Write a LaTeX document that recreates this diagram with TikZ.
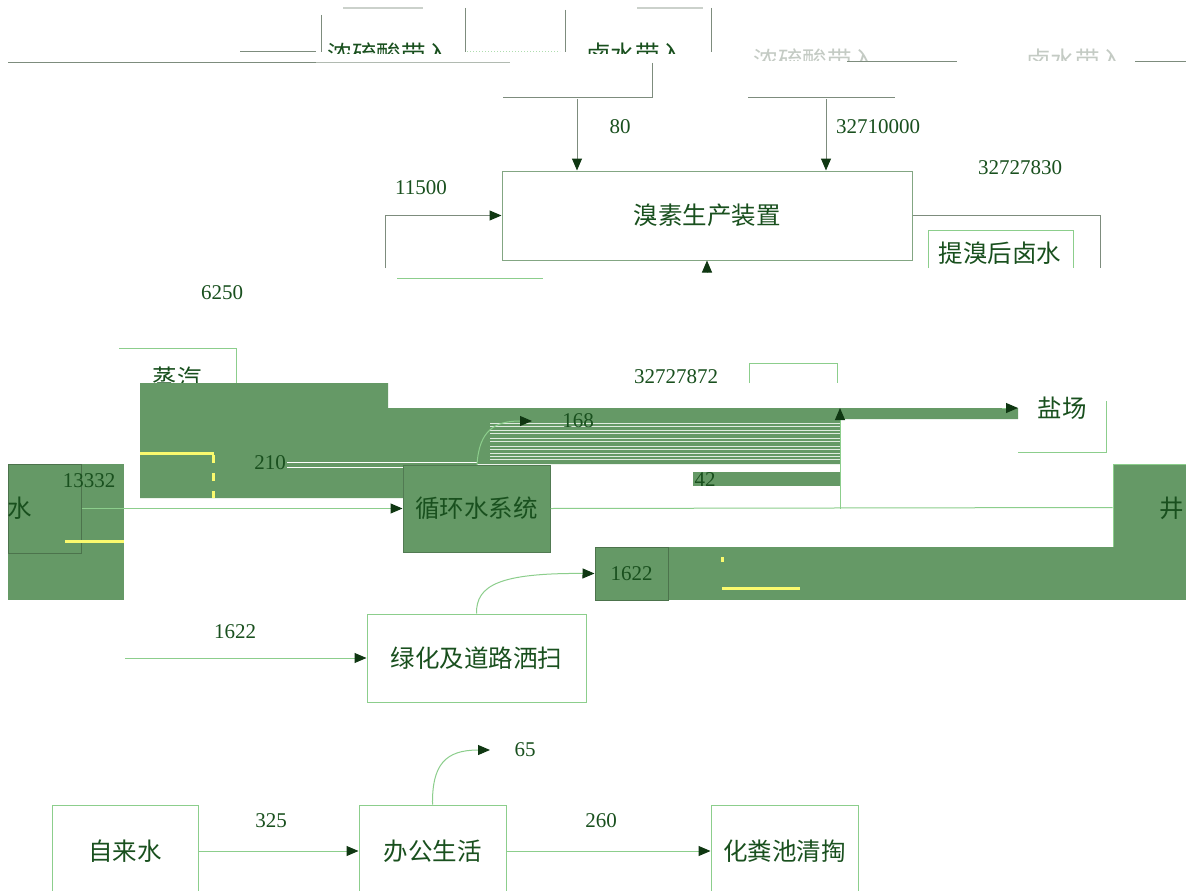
\documentclass[tikz,border=0pt]{standalone}
\usepackage{fontspec}
\setmainfont{Liberation Serif}
\newfontfamily\cjk{Noto Sans CJK SC}
\usetikzlibrary{arrows.meta}
\definecolor{lg}{RGB}{140,206,140}
\definecolor{gy}{RGB}{125,140,125}
\definecolor{tg}{RGB}{25,80,30}
\definecolor{fg}{RGB}{101,153,102}
\definecolor{yl}{RGB}{250,250,110}
\definecolor{ah}{RGB}{15,55,18}
\tikzset{
  cn/.style={font=\cjk\fontsize{24.5}{28}\selectfont, text=tg, inner sep=0pt},
  num/.style={font=\fontsize{21}{24}\selectfont, text=tg, inner sep=0pt},
  boxx/.style={draw=lg, inner sep=0pt},
  conn/.style={draw=lg, line width=1pt, -{Triangle[length=12pt,width=10pt,fill=ah,color=ah]}},
  connG/.style={conn, draw=gy},
}
\begin{document}
\begin{tikzpicture}[x=1pt,y=-1pt,line width=1pt]
\useasboundingbox (0,0) rectangle (1186,891);
\fill[white] (0,0) rectangle (1186,891);
\clip (0,0) rectangle (1186,891);

% ---------- top ----------
\draw[gy!40, line width=1.5pt] (343,8)--(423,8) (637,8)--(703,8);
\draw[gy] (321,15)--(321,52) (465,8)--(465,52) (565,10)--(565,52) (711,8)--(711,52);
\draw[gy] (240,52)--(316,52);
\draw[gy] (8,63)--(316,63);
\draw[gy!60] (316,63)--(510,63);
\draw[lg!70, dotted] (467,52)--(560,52);
\begin{scope}
  \clip (300,0) rectangle (720,53.5);
  \node[cn] (nls) at (389,54) {浓硫酸带入};
  \node[cn] (lsd) at (635,54) {卤水带入};
\end{scope}
\begin{scope}[opacity=0.45]
  \clip (720,45) rectangle (1186,61);
  \node[cn, text=gy] (g1) at (815,60) {浓硫酸带入};
  \node[cn, text=gy] (g2) at (1075,60) {卤水带入};
\end{scope}
\draw[gy] (847,62)--(957,62) (1135,62)--(1186,62);
\draw[gy] (652,63)--(652,97)--(503,97);
\draw[gy] (748,97)--(895,97);

% ---------- bromine unit ----------
\node[boxx, draw=gy!60!lg, cn, minimum width=410pt, minimum height=89pt] (xs) at (707,215.5) {溴素生产装置};
\coordinate (a80) at (577,99);
\coordinate (a327) at (826,99);
\draw[connG] (a80) -- (a80 |- xs.north);
\draw[connG] (a327) -- (a327 |- xs.north);
\node[num] (n80) at (620,127) {80};
\node[num] (n327) at (878,127) {32710000};
\coordinate (l115) at (385,268);
\draw[connG] (l115) |- (xs.west);
\node[num] (n115) at (421,188) {11500};
\draw[lg] (397,278)--(543,278);
\coordinate (xb) at (707,272);
\draw[conn] (xb) -- (xs.south);
\coordinate (rt) at (1100,268);
\draw[gy] (xs.east) -- (1100,215.5) -- (rt);
\node[num] (n3278) at (1020,168) {32727830};
\draw[lg] (928,268) |- (1073,230) -- (1073,268);
\node[cn] (tx) at (1000,253) {提溴后卤水};

% ---------- middle ----------
\node[num] (n6250) at (222,293) {6250};
\draw[lg] (119,348)--(236,348)--(236,383);
\node[cn] (zq) at (177,378) {蒸汽};
\node[num] (n3272) at (676,377) {32727872};
\draw[lg] (749,383) |- (837,363) -- (837,383);

\fill[fg] (140,383) -- (388,383) -- (388,408) -- (1018,408) -- (1018,419) -- (840,419)
  -- (840,464) -- (477,464) -- (477,465) -- (403,465) -- (403,498) -- (140,498) -- cycle;
\foreach \yy in {423,426.5,430,433.5,438,441.5,446,449,453,456,459.5}
  \draw[white!80!fg, line width=0.7pt] (490,\yy) -- (840,\yy);
\draw[white, line width=1pt] (287,462) -- (477,462);
\draw[white, line width=1pt] (287,467) -- (403,467);
\node[num] (n210) at (270,463) {210};
\draw[yl, line width=3pt] (140,453) -- (214,453);
\draw[yl, line width=3pt, dash pattern=on 8pt off 10pt] (213,455) -- (213,498);

\coordinate (c168s) at (477,465);
\coordinate (c168e) at (532,421);
\draw[conn] (c168s) .. controls (479,430) and (495,421) .. (c168e);
\node[num] (n168) at (578,421) {168};

\fill[fg] (693,472) rectangle (840,486);
\node[num] (n42) at (705,480) {42};

% left source
\fill[fg] (8,464) rectangle (124,600);
\node[draw=fg!75!black, minimum width=73pt, minimum height=89pt, inner sep=0pt] (shui) at (44.5,508.5) {};
\node[cn] (shuit) at (20,508) {水};
\node[num] (n1333) at (89,481) {13332};
\draw[yl, line width=3pt] (65,541) -- (124,541);

% circulating water
\node[cn, fill=fg, draw=fg!80!black, minimum width=147pt, minimum height=87pt] (xh) at (476.5,508.5) {循环水系统};
\draw[conn] (shui.east) -- (xh.west);

% discharge box at right
\node[fill=fg, draw=lg, minimum width=80pt, minimum height=87pt] (jing) at (1153,507.5) {};
\node[cn] (jingt) at (1172,508) {井};
\draw[lg] (xh.east) -- (jing.west);
\coordinate (j840) at (840,508.5);
\draw[conn] (j840) -- (840,408);

% salt field
\coordinate (ys0) at (1002,408);
\coordinate (ys1) at (1018,408);
\draw[conn] (ys0) -- (ys1);
\draw[lg] (1018,452) -- (1106,452) -- (1106,401);
\node[cn] (yc) at (1062,408) {盐场};

% lower band
\fill[fg] (595,547) rectangle (1186,600);
\node[num, draw=fg!75!black, fill=fg, minimum width=73pt, minimum height=53pt] (b1622) at (631.5,573.5) {1622};
\fill[yl] (720.5,557) rectangle (724,562);
\draw[yl, line width=3pt] (722,588) -- (800,588);

% greening
\node[boxx, cn, minimum width=219pt, minimum height=88pt] (lh) at (476.5,658) {绿化及道路洒扫};
\draw[conn] (lh.north) .. controls (476,585) and (500,573) .. (b1622.west);
\coordinate (l1622) at (125,658);
\draw[conn] (l1622) -- (lh.west);
\node[num] (n1622) at (235,632) {1622};

% ---------- bottom ----------
\node[boxx, cn, minimum width=146pt, minimum height=92pt] (zls) at (125,851) {自来水};
\node[boxx, cn, minimum width=147pt, minimum height=92pt] (bg) at (432.5,851) {办公生活};
\node[boxx, cn, minimum width=147pt, minimum height=92pt] (hf) at (784.5,851) {化粪池清掏};
\draw[conn] (zls.east) -- (bg.west);
\draw[conn] (bg.east) -- (hf.west);
\node[num] (n325) at (271,821) {325};
\node[num] (n260) at (601,821) {260};
\coordinate (e65) at (490,750);
\draw[conn] (bg.north) .. controls (432,765) and (445,750) .. (e65);
\node[num] (n65) at (525,750) {65};
\end{tikzpicture}
\end{document}
